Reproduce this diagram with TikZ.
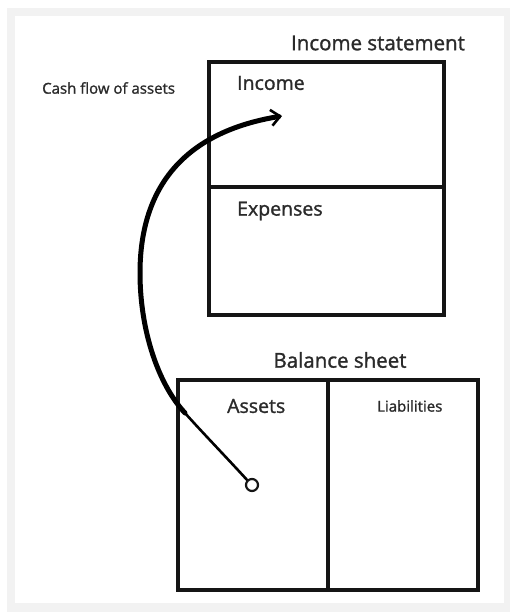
\documentclass[tikz,border=0pt]{standalone}
\usepackage{fontspec}
\setmainfont{Open Sans}[FakeBold=1.3]
\usetikzlibrary{arrows.meta}
\definecolor{txt}{HTML}{2A2A2A}
\definecolor{ln}{HTML}{151515}
\definecolor{frm}{HTML}{F2F2F2}
\begin{document}
\begin{tikzpicture}[x=1pt,y=-1pt,
  boxline/.style={draw=ln,line width=3.2pt},
  lbl/.style={text=txt,inner sep=0pt,anchor=west},
  title/.style={text=txt,inner sep=0pt,font=\fontsize{20.5}{24}\selectfont},
  big/.style={font=\fontsize{19.5}{23}\selectfont},
  small/.style={font=\fontsize{15}{18}\selectfont},
  curvethick/.style={draw=black,line width=5pt,line cap=round},
  curvethin/.style={draw=black,line width=2.6pt,line cap=round}]
\useasboundingbox (0,0) rectangle (513,616);
\fill[white] (0,0) rectangle (513,616);
\fill[frm] (7,8) rectangle (510,612);
\fill[white] (15,16) rectangle (504,603);
% income statement
\draw[boxline] (209,62) rectangle (444,315);
\coordinate (isL) at (209,187);
\coordinate (isR) at (444,187);
\draw[boxline] (isL) -- (isR);
\node[title] (ist) at (378,43) {Income statement};
\node[lbl,big] (inc) at (237,83) {Income};
\node[lbl,big] (exp) at (237,211) {Expenses};
\node[lbl,small] (cf) at (42,88) {Cash flow of assets};
% balance sheet
\draw[boxline] (178,380) rectangle (478,590);
\coordinate (bsT) at (328,380);
\coordinate (bsB) at (328,590);
\draw[boxline] (bsT) -- (bsB);
\node[title] (bst) at (340,360) {Balance sheet};
\node[lbl,big] (ast) at (227,406) {Assets};
\node[lbl,small] (lia) at (377,406) {Liabilities};
% curve
\coordinate (start) at (252,485);
\coordinate (p1) at (185,413);
\coordinate (p2) at (140,273);
\coordinate (tip) at (282,116);
\draw[curvethin] (start) ++(-4,-4) .. controls (228,459) and (200,430) .. (p1);
\draw[curvethick,-{Straight Barb[length=9pt,width=16pt,line width=2.6pt]}] (p1) .. controls (158,384) and (140,330) .. (p2)
   .. controls (140,200) and (172,134) .. (tip);
\node[draw=ln,fill=white,circle,line width=2.2pt,minimum size=12pt,inner sep=0pt] (dot) at (start) {};
\end{tikzpicture}
\end{document}
